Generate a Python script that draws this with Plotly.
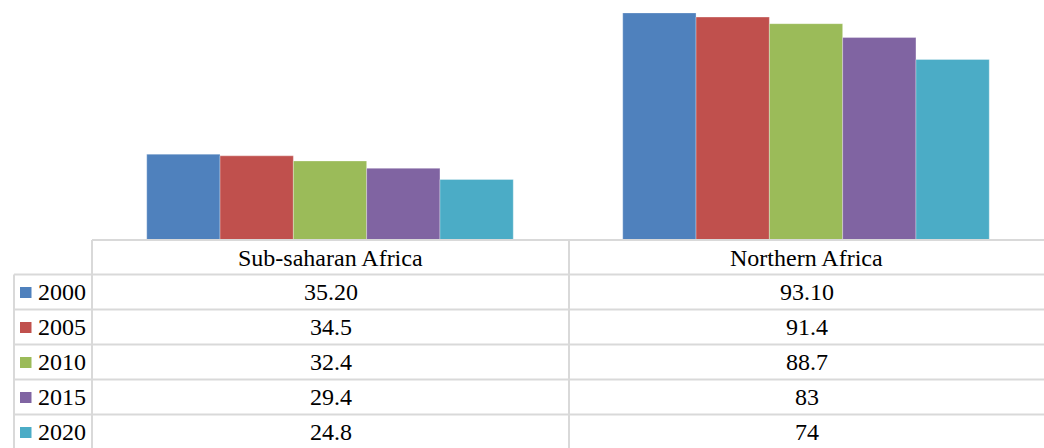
import plotly.graph_objects as go

regions = ["Sub-saharan Africa", "Northern Africa"]
years = ["2000", "2005", "2010", "2015", "2020"]
sub_saharan = [35.20, 34.5, 32.4, 29.4, 24.8]
northern = [93.10, 91.4, 88.7, 83, 74]
sub_labels = ["35.20", "34.5", "32.4", "29.4", "24.8"]
north_labels = ["93.10", "91.4", "88.7", "83", "74"]
colors = ["#4F81BD", "#C0504D", "#9BBB59", "#8064A2", "#4BACC6"]

W, H = 1044, 448
def px(x):
    return x / W
def py(y):
    return 1 - y / H

fig = go.Figure()
for i, yr in enumerate(years):
    fig.add_trace(go.Bar(
        x=regions, y=[sub_saharan[i], northern[i]], name=yr,
        marker=dict(color=colors[i], line=dict(width=0.6, color="rgba(255,255,255,0.5)")),
        showlegend=False,
    ))

grid = "#d9d9d9"
font = dict(family="Liberation Serif, Times New Roman, serif", size=24, color="#000000")
shapes = []
row_tops = [240, 274.5, 309.5, 344.5, 379.5, 414.5]
shapes.append(dict(type="line", xref="paper", yref="paper", x0=px(92), x1=px(1044),
                   y0=py(240), y1=py(240), line=dict(color=grid, width=2)))
for yy in row_tops[1:]:
    shapes.append(dict(type="line", xref="paper", yref="paper", x0=px(14), x1=px(1044),
                       y0=py(yy), y1=py(yy), line=dict(color=grid, width=2)))
for xx, ytop in [(14, 274.5), (92, 240), (569, 240)]:
    shapes.append(dict(type="line", xref="paper", yref="paper", x0=px(xx), x1=px(xx),
                       y0=py(ytop), y1=py(448), line=dict(color=grid, width=2)))

annotations = []
col_centers = [330.5, 806.5]
header_y = 257.5
row_centers = [292, 327, 362, 397, 432]
for c, name in zip(col_centers, regions):
    annotations.append(dict(xref="paper", yref="paper", x=px(c), y=py(header_y), text=name,
                            showarrow=False, font=font, xanchor="center", yanchor="middle"))
for i, yr in enumerate(years):
    yc = row_centers[i]
    shapes.append(dict(type="rect", xref="paper", yref="paper", x0=px(20), x1=px(31.5),
                       y0=py(yc - 5), y1=py(yc + 6), fillcolor=colors[i], line=dict(width=0)))
    annotations.append(dict(xref="paper", yref="paper", x=px(35.5), y=py(yc), text=yr,
                            showarrow=False, font=font, xanchor="left", yanchor="middle"))
    annotations.append(dict(xref="paper", yref="paper", x=px(col_centers[0]), y=py(yc),
                            text=sub_labels[i], showarrow=False, font=font,
                            xanchor="center", yanchor="middle"))
    annotations.append(dict(xref="paper", yref="paper", x=px(col_centers[1]), y=py(yc),
                            text=north_labels[i], showarrow=False, font=font,
                            xanchor="center", yanchor="middle"))

fig.update_layout(
    width=W, height=H,
    margin=dict(l=0, r=0, t=0, b=0),
    paper_bgcolor="white", plot_bgcolor="white",
    barmode="group", bargap=0.23, bargroupgap=0,
    xaxis=dict(domain=[px(92), 1], range=[-0.5, 1.5], showticklabels=False,
               showgrid=False, zeroline=False, showline=False, ticks=""),
    yaxis=dict(domain=[py(240), 1], range=[0, 98.4], showticklabels=False,
               showgrid=False, zeroline=False, showline=False, ticks=""),
    shapes=shapes, annotations=annotations,
)
fig.write_html("out.html", config={"displayModeBar": False},
               post_script="document.body.style.margin='0';document.body.style.overflow='hidden';")
